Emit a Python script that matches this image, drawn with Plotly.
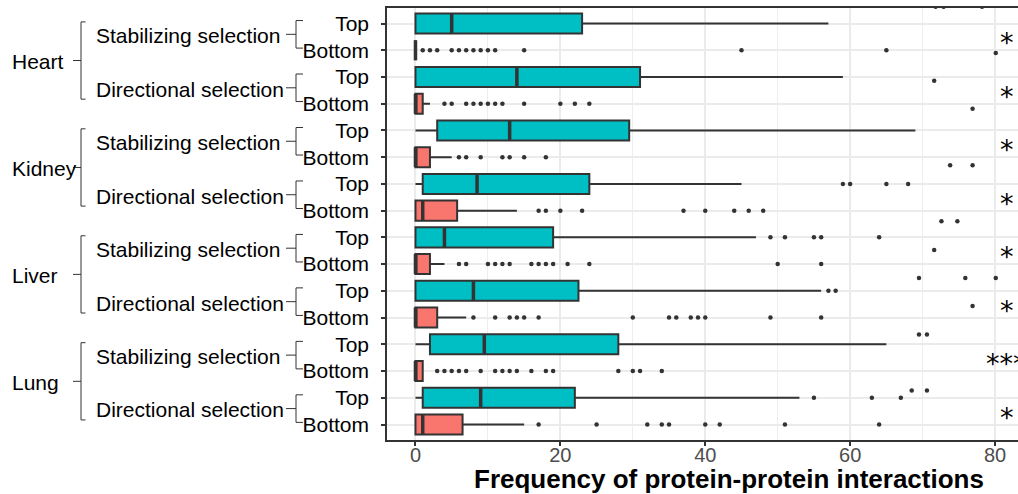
import plotly.graph_objects as go

# ---- data -----------------------------------------------------------------
tissues = ["Heart", "Kidney", "Liver", "Lung"]
selections = ["Stabilizing selection", "Directional selection"]
groups = ["Top", "Bottom"]

# Box summaries, one entry per tissue/selection pair
# (Heart-Stab, Heart-Dir, Kidney-Stab, Kidney-Dir, Liver-Stab, Liver-Dir, Lung-Stab, Lung-Dir)
top_low = [0, 0, 0, 0, 0, 0, 0, 0]
top_q1 = [0, 0, 3, 1, 0, 0, 2, 1]
top_med = [5, 14, 13, 8.5, 4, 8, 9.5, 9]
top_q3 = [23, 31, 29.5, 24, 19, 22.5, 28, 22]
top_high = [57, 59, 69, 45, 47, 56, 65, 53]

bot_low = [0, 0, 0, 0, 0, 0, 0, 0]
bot_q1 = [0, 0, 0, 0, 0, 0, 0, 0]
bot_med = [0, 0, 0, 1, 0, 0, 0, 1]
bot_q3 = [0, 1, 2, 5.75, 2, 3, 1, 6.5]
bot_high = [0, 2, 5, 14, 4, 7, 1, 15]

top_out = [
    [],
    [],
    [],
    [59, 60, 65, 68],
    [49, 51, 55, 56, 64],
    [57, 58],
    [],
    [55, 63, 67],
]
bot_out = [
    [1, 2, 3, 5, 6, 7, 8, 9, 10, 11, 15, 45, 65],
    [4, 5, 7, 8, 9, 10, 11, 12, 15, 20, 22, 24],
    [6, 7, 9, 12, 13, 15, 18],
    [17, 18, 20, 23, 37, 40, 44, 46, 48],
    [6, 7, 10, 11, 12, 13, 16, 17, 18, 19, 21, 24, 50, 56],
    [8, 11, 13, 14, 15, 17, 30, 35, 36, 38, 39, 40, 49, 56],
    [3, 4, 5, 6, 7, 9, 11, 12, 13, 14, 16, 18, 19, 28, 30, 31, 34],
    [17, 25, 32, 34, 35, 40, 42, 51, 64],
]

# Extra points from the overlaid layer (value, row position)
extra_x = [71.8, 72.9, 78.2, 80.1, 71.6, 76.9, 73.8, 76.9, 72.6, 74.8, 71.6,
           69.5, 75.9, 80.1, 76.9, 69.5, 70.6, 68.5, 70.6]
extra_row = [0.37, 0.37, 0.37, 2.10, 3.14, 4.19, 6.30, 6.30, 8.40, 8.40, 9.47,
             10.52, 10.52, 10.52, 11.57, 12.63, 12.63, 14.73, 14.73]

signif = ["*", "*", "*", "*", "*", "*", "***", "*"]

# ---- layout constants ------------------------------------------------------
W, H = 1018, 494
L, R, T, B = 387, 0, 8, 54
X_RANGE = [-3.93, 83.17]
Y_RANGE = [16.58, 0.42]
BOX_W = 0.75
DARK = "#333333"
TOP_COL = "#00BFC4"
BOT_COL = "#F8766D"
FONT = "Liberation Sans, Arial, Helvetica, sans-serif"


def px2paper(px):
    return (px - L) / (W - L - R)


n_pairs = len(top_med)
top_rows = [2 * k + 1 for k in range(n_pairs)]
bot_rows = [2 * k + 2 for k in range(n_pairs)]

fig = go.Figure()

box_style = dict(orientation="h", width=BOX_W, line=dict(color=DARK, width=2),
                 whiskerwidth=0, boxpoints=False, showlegend=False, hoverinfo="skip")

fig.add_trace(go.Box(y=top_rows, q1=top_q1, median=top_med, q3=top_q3,
                     lowerfence=top_low, upperfence=top_high,
                     fillcolor=TOP_COL, name="Top", **box_style))
fig.add_trace(go.Box(y=bot_rows, q1=bot_q1, median=bot_med, q3=bot_q3,
                     lowerfence=bot_low, upperfence=bot_high,
                     fillcolor=BOT_COL, name="Bottom", **box_style))

# thick median bars
mx, my = [], []
for rows, meds in ((top_rows, top_med), (bot_rows, bot_med)):
    for r, m in zip(rows, meds):
        mx += [m, m, None]
        my += [r - BOX_W / 2, r + BOX_W / 2, None]
fig.add_trace(go.Scatter(x=mx, y=my, mode="lines", line=dict(color=DARK, width=3.5),
                         showlegend=False, hoverinfo="skip"))

# outliers
ox, oy = [], []
for rows, outs in ((top_rows, top_out), (bot_rows, bot_out)):
    for r, vals in zip(rows, outs):
        ox += vals
        oy += [r] * len(vals)
ox += extra_x
oy += extra_row
fig.add_trace(go.Scatter(x=ox, y=oy, mode="markers",
                         marker=dict(color=DARK, size=4.5, line=dict(width=0)),
                         showlegend=False, hoverinfo="skip"))

# significance marks
for k, s in enumerate(signif):
    mid = (top_rows[k] + bot_rows[k]) / 2
    fig.add_annotation(x=81.6, y=mid + 0.22, xref="x", yref="y", text=s,
                       showarrow=False, xanchor="center", yanchor="middle",
                       font=dict(family="DejaVu Sans", size=27, color="black"))

# nested category guide on the left
shapes = []
line_style = dict(color=DARK, width=1)
for t, tissue in enumerate(tissues):
    first = 4 * t + 1
    o_top, o_bot = first - 0.06, first + 3 - 0.17
    o_mid = (o_top + o_bot) / 2
    xv, xt = px2paper(81), px2paper(85.5)
    shapes += [
        dict(type="line", xref="paper", yref="y", x0=xv, x1=xv, y0=o_top, y1=o_bot, line=line_style),
        dict(type="line", xref="paper", yref="y", x0=xv, x1=xt, y0=o_top, y1=o_top, line=line_style),
        dict(type="line", xref="paper", yref="y", x0=xv, x1=xt, y0=o_bot, y1=o_bot, line=line_style),
        dict(type="line", xref="paper", yref="y", x0=px2paper(73), x1=xv, y0=o_mid, y1=o_mid, line=line_style),
    ]
    fig.add_annotation(x=px2paper(10), y=o_mid + 0.04, xref="paper", yref="y", text=tissue,
                       showarrow=False, xanchor="left", yanchor="middle",
                       font=dict(family=FONT, size=21, color="black"))
    for s, sel in enumerate(selections):
        r = first + 2 * s
        i_top, i_bot = r - 0.11, r + 1 - 0.08
        i_mid = (i_top + i_bot) / 2
        xv2, xt2 = px2paper(296), px2paper(303)
        shapes += [
            dict(type="line", xref="paper", yref="y", x0=xv2, x1=xv2, y0=i_top, y1=i_bot, line=line_style),
            dict(type="line", xref="paper", yref="y", x0=xv2, x1=xt2, y0=i_top, y1=i_top, line=line_style),
            dict(type="line", xref="paper", yref="y", x0=xv2, x1=xt2, y0=i_bot, y1=i_bot, line=line_style),
            dict(type="line", xref="paper", yref="y", x0=px2paper(286), x1=xv2, y0=i_mid, y1=i_mid, line=line_style),
        ]
        fig.add_annotation(x=px2paper(94), y=i_mid + 0.05, xref="paper", yref="y", text=sel,
                           showarrow=False, xanchor="left", yanchor="middle",
                           font=dict(family=FONT, size=21, color="black"))

# axis title
fig.add_annotation(x=px2paper(728.5), y=-(479 - 440) / (440 - T), xref="paper", yref="paper",
                   text="<b>Frequency of protein-protein interactions</b>", showarrow=False,
                   xanchor="center", yanchor="middle",
                   font=dict(family=FONT, size=26, color="black"))

fig.update_layout(
    width=W, height=H,
    margin=dict(l=L, r=R, t=T, b=B, pad=0),
    paper_bgcolor="white", plot_bgcolor="white",
    boxmode="overlay",
    shapes=shapes,
    font=dict(family=FONT),
    xaxis=dict(
        range=X_RANGE, tickvals=[0, 20, 40, 60, 80], showgrid=True,
        gridcolor="#EBEBEB", gridwidth=1.5, zeroline=False,
        showline=True, linecolor=DARK, linewidth=1.5, mirror=True,
        ticks="outside", ticklen=4, tickwidth=1.5, tickcolor=DARK,
        ticklabelstandoff=-8,
        tickfont=dict(family=FONT, size=20, color="#4D4D4D"),
        minor=dict(tickvals=[10, 30, 50, 70], showgrid=True, gridcolor="#EEEEEE",
                   gridwidth=1, ticks=""),
    ),
    yaxis=dict(
        range=Y_RANGE, tickvals=list(range(1, 2 * n_pairs + 1)),
        ticktext=[groups[(i - 1) % 2] for i in range(1, 2 * n_pairs + 1)],
        showgrid=True, gridcolor="#EBEBEB", gridwidth=1.5, zeroline=False,
        showline=True, linecolor=DARK, linewidth=1.5,
        ticks="outside", ticklen=4, tickwidth=1.5, tickcolor=DARK,
        ticklabelstandoff=8,
        tickfont=dict(family=FONT, size=21, color="black"),
    ),
)

fig.write_html("out.html")
